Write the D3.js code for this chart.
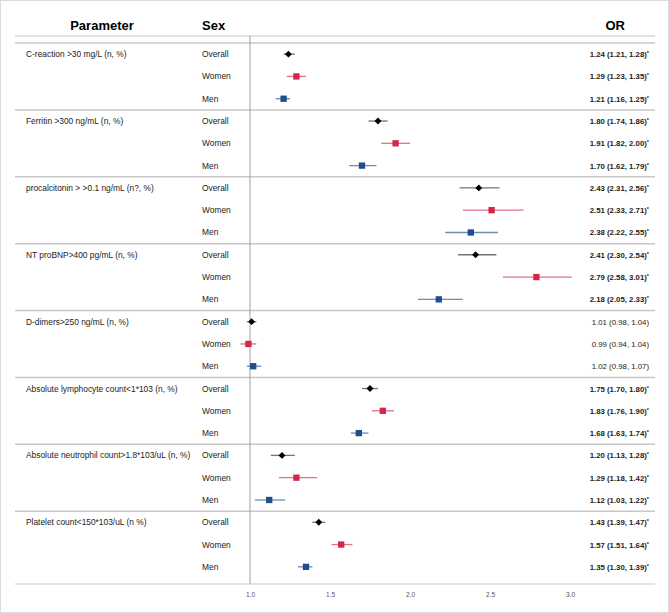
<!DOCTYPE html>
<html>
<head>
<meta charset="utf-8">
<script src="https://cdn.jsdelivr.net/npm/d3@7"></script>
<style>
  body { margin: 0; background: #fff; }
  text { font-family: "Liberation Sans", Arial, sans-serif; }
</style>
</head>
<body>
<svg id="chart" width="669" height="613"></svg>
<script>
// parameters (one group of 3 rows each)
var parameters = [
  "C-reaction >30 mg/L (n, %)",
  "Ferritin >300 ng/mL (n, %)",
  "procalcitonin  > >0.1 ng/mL (n?, %)",
  "NT proBNP>400 pg/mL (n, %)",
  "D-dimers>250 ng/mL (n, %)",
  "Absolute lymphocyte count<1*103 (n, %)",
  "Absolute neutrophil count>1.8*103/uL (n, %)",
  "Platelet count<150*103/uL (n %)"
];
var sexes = ["Overall", "Women", "Men"];

// odds ratios, per parameter: [Overall, Women, Men]
var orValues = [
  [1.24, 1.29, 1.21],
  [1.80, 1.91, 1.70],
  [2.43, 2.51, 2.38],
  [2.41, 2.79, 2.18],
  [1.01, 0.99, 1.02],
  [1.75, 1.83, 1.68],
  [1.20, 1.29, 1.12],
  [1.43, 1.57, 1.35]
];
var ciLow = [
  [1.21, 1.23, 1.16],
  [1.74, 1.82, 1.62],
  [2.31, 2.33, 2.22],
  [2.30, 2.58, 2.05],
  [0.98, 0.94, 0.98],
  [1.70, 1.76, 1.63],
  [1.13, 1.18, 1.03],
  [1.39, 1.51, 1.30]
];
var ciHigh = [
  [1.28, 1.35, 1.25],
  [1.86, 2.00, 1.79],
  [2.56, 2.71, 2.55],
  [2.54, 3.01, 2.33],
  [1.04, 1.04, 1.07],
  [1.80, 1.90, 1.74],
  [1.28, 1.42, 1.22],
  [1.47, 1.64, 1.39]
];
var significant = [true, true, true, true, false, true, true, true];
var xTicks = [1.0, 1.5, 2.0, 2.5, 3.0];

var colors = { Overall: "#000000", Women: "#d4264a", Men: "#1f4e8c" };

var svg = d3.select("#chart");

// frame
svg.append("rect")
  .attr("x", 0.5).attr("y", 0.5)
  .attr("width", 668).attr("height", 612)
  .attr("fill", "none").attr("stroke", "#dcdcdc");

// build rows
var rows = [];
parameters.forEach(function(p, i) {
  sexes.forEach(function(s, j) {
    rows.push({
      param: p, sex: s, group: i, idx: j,
      or: orValues[i][j], lo: ciLow[i][j], hi: ciHigh[i][j],
      sig: significant[i]
    });
  });
});

var y = d3.scaleBand()
  .domain(d3.range(rows.length))
  .range([43, 578]);

var x = d3.scaleLinear()
  .domain([1.0, 3.0])
  .range([250, 570]);

var lineLeft = 15, lineRight = 655;

// headers
svg.append("text")
  .attr("x", 102).attr("y", 30)
  .attr("text-anchor", "middle")
  .attr("font-size", 13).attr("font-weight", "bold")
  .text("Parameter");
svg.append("text")
  .attr("x", 202).attr("y", 30)
  .attr("font-size", 13).attr("font-weight", "bold")
  .text("Sex");
svg.append("text")
  .attr("x", 625).attr("y", 30)
  .attr("text-anchor", "end")
  .attr("font-size", 13).attr("font-weight", "bold")
  .text("OR");

// header line
svg.append("line")
  .attr("x1", lineLeft).attr("x2", lineRight)
  .attr("y1", 36).attr("y2", 36)
  .attr("stroke", "#c8c8c8").attr("stroke-width", 1.2);

// group separators
d3.range(parameters.length).forEach(function(i) {
  var yy = y(i * 3);
  svg.append("line")
    .attr("x1", lineLeft).attr("x2", lineRight)
    .attr("y1", yy).attr("y2", yy)
    .attr("stroke", "#c8c8c8").attr("stroke-width", 1.5);
});

// reference line at OR = 1
svg.append("line")
  .attr("x1", x(1)).attr("x2", x(1))
  .attr("y1", 36).attr("y2", 584)
  .attr("stroke", "#a0a0a0").attr("stroke-width", 1);

// x axis
var axis = svg.append("g")
  .attr("transform", "translate(0,584)")
  .call(d3.axisBottom(x).tickValues(xTicks).tickFormat(d3.format(".1f")).tickSize(0).tickPadding(8));
axis.select(".domain").remove();
axis.selectAll("text")
  .attr("font-size", 6.5).attr("fill", "#555");
svg.append("line")
  .attr("x1", lineLeft).attr("x2", lineRight)
  .attr("y1", 584).attr("y2", 584)
  .attr("stroke", "#c8c8c8").attr("stroke-width", 1.2);

var row = svg.selectAll("g.row")
  .data(rows)
  .enter().append("g")
  .attr("class", "row")
  .attr("transform", function(d, i) { return "translate(0," + (y(i) + y.bandwidth() / 2) + ")"; });

// parameter labels
row.filter(function(d) { return d.idx === 0; })
  .append("text")
  .attr("x", 26).attr("y", 3)
  .attr("font-size", 8.4).attr("fill", "#222")
  .text(function(d) { return d.param; });

// sex labels
row.append("text")
  .attr("x", 202).attr("y", 3)
  .attr("font-size", 8.4).attr("fill", "#222")
  .text(function(d) { return d.sex; });

// CI lines
row.append("line")
  .attr("x1", function(d) { return x(d.lo); })
  .attr("x2", function(d) { return x(d.hi); })
  .attr("y1", 0).attr("y2", 0)
  .attr("stroke", function(d) { return colors[d.sex]; })
  .attr("stroke-opacity", function(d) { return d.sex === "Overall" ? 0.55 : 0.65; })
  .attr("stroke-width", 1.3);

// point markers: diamond (rotated square) for overall, squares for sexes
row.append("path")
  .attr("transform", function(d) {
    return "translate(" + x(d.or) + ",0)" + (d.sex === "Overall" ? " rotate(45)" : "");
  })
  .attr("d", function(d) {
    return d3.symbol().type(d3.symbolSquare).size(d.sex === "Overall" ? 24 : 40)();
  })
  .attr("fill", function(d) { return colors[d.sex]; });

// OR text
var fmt = d3.format(".2f");
var orText = row.append("text")
  .attr("x", 649).attr("y", 3)
  .attr("text-anchor", "end")
  .attr("font-size", 7.8)
  .attr("fill", "#222")
  .attr("font-weight", function(d) { return d.sig ? "bold" : "normal"; })
  .text(function(d) { return fmt(d.or) + " (" + fmt(d.lo) + ", " + fmt(d.hi) + ")"; });
orText.filter(function(d) { return d.sig; })
  .append("tspan")
  .attr("font-size", 5.5)
  .attr("dy", -2)
  .text("*");
</script>
</body>
</html>
